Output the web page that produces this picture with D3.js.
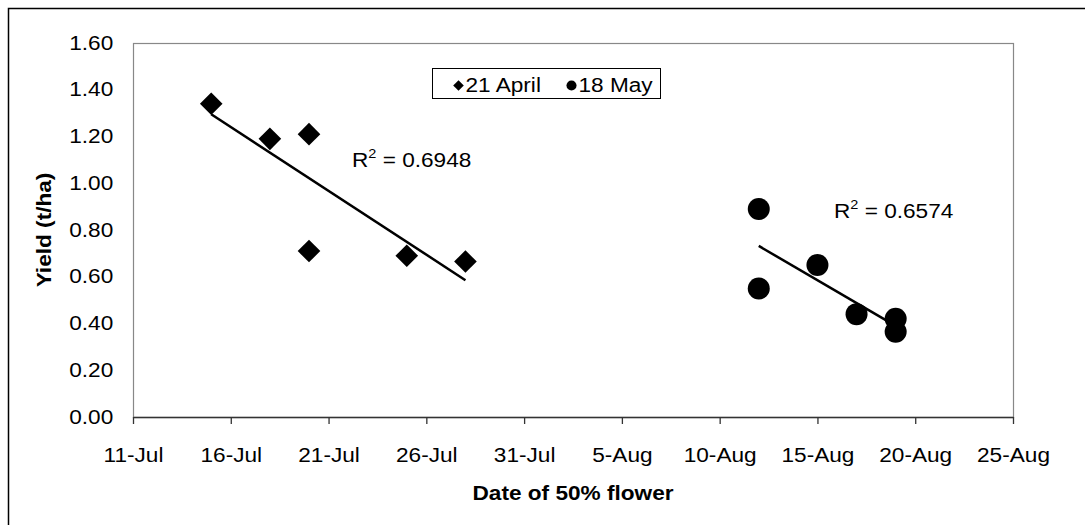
<!DOCTYPE html>
<html>
<head>
<meta charset="utf-8">
<title>Yield vs date of 50% flower</title>
<style>
    body { margin: 0; background: #fff; }
    text { font-family: "Liberation Sans", Arial, sans-serif; fill: #000; }
</style>
</head>
<body>
<svg id="chart"></svg>
<script src="https://d3js.org/d3.v7.min.js"></script>
<script>

    // data
    const apr21Dates = ["15-Jul", "18-Jul", "20-Jul", "20-Jul", "25-Jul", "28-Jul"];
    const apr21Yield = [1.34, 1.19, 1.21, 0.71, 0.69, 0.665];
    const may18Dates = ["12-Aug", "12-Aug", "15-Aug", "17-Aug", "19-Aug", "19-Aug"];
    const may18Yield = [0.89, 0.55, 0.65, 0.44, 0.42, 0.365];
    const seriesNames = ["21 April", "18 May"];
    const r2Labels = ["0.6948", "0.6574"];
    const xTickLabels = ["11-Jul", "16-Jul", "21-Jul", "26-Jul", "31-Jul", "5-Aug", "10-Aug", "15-Aug", "20-Aug", "25-Aug"];
    const yTicks = [0, 0.2, 0.4, 0.6, 0.8, 1.0, 1.2, 1.4, 1.6];

    const parseDate = d3.utcParse("%d-%b-%Y");
    const toDate = function(s) { return parseDate(s + "-2000"); };

    const svgWidth = 1085, svgHeight = 525;
    const margin = {top: 43, right: 72, bottom: 108, left: 133};
    const width = svgWidth - margin.left - margin.right;
    const height = svgHeight - margin.top - margin.bottom;
    const stretch = "scale(1.16,1)";   // the original text is a bit wide
    const fontSize = "19.5px";

    const svg = d3.select("#chart")
        .attr("width", svgWidth)
        .attr("height", svgHeight);

    // outer chart border (only top and left are in the picture)
    svg.append("path")
        .attr("d", "M8.5," + svgHeight + "V8.5H" + svgWidth)
        .attr("fill", "none")
        .attr("stroke", "#000")
        .attr("stroke-width", 1.5);

    const g = svg.append("g")
        .attr("transform", "translate(" + margin.left + "," + margin.top + ")");

    const x = d3.scaleUtc()
        .domain([toDate(xTickLabels[0]), toDate(xTickLabels[xTickLabels.length - 1])])
        .range([0, width]);
    const y = d3.scaleLinear().domain([0, 1.6]).range([height, 0]);

    // plot area frame
    g.append("rect")
        .attr("x", 0.5).attr("y", 0.5)
        .attr("width", width).attr("height", height)
        .attr("fill", "none")
        .attr("stroke", "#888")
        .attr("stroke-width", 1.2);

    // x axis
    const xAxis = g.append("g")
        .attr("transform", "translate(0," + height + ")")
        .call(d3.axisBottom(x)
            .tickValues(xTickLabels.map(toDate))
            .tickFormat(d3.utcFormat("%-d-%b"))
            .tickSize(7)
            .tickPadding(23)
            .tickSizeOuter(0));
    xAxis.select(".domain").attr("stroke", "#333").attr("stroke-width", 1.5);
    xAxis.selectAll(".tick line").attr("stroke", "#333").attr("stroke-width", 1.3);
    xAxis.selectAll("text")
        .attr("font-size", fontSize)
        .attr("font-family", "Liberation Sans, Arial, sans-serif")
        .attr("dy", "0.75em")
        .attr("transform", stretch);

    // y axis, labels only
    const yAxis = g.append("g")
        .call(d3.axisLeft(y)
            .tickValues(yTicks)
            .tickFormat(d3.format(".2f"))
            .tickSize(0)
            .tickPadding(17));
    yAxis.select(".domain").remove();
    yAxis.selectAll("text")
        .attr("font-size", fontSize)
        .attr("font-family", "Liberation Sans, Arial, sans-serif")
        .attr("transform", stretch);

    // axis titles
    svg.append("text")
        .attr("transform", "translate(" + (margin.left + width / 2) + ",500) " + stretch)
        .attr("text-anchor", "middle")
        .attr("font-size", fontSize)
        .attr("font-weight", "bold")
        .text("Date of 50% flower");

    svg.append("text")
        .attr("transform", "translate(51," + (margin.top + height / 2) + ") rotate(-90) scale(1.16,1)")
        .attr("text-anchor", "middle")
        .attr("font-size", fontSize)
        .attr("font-weight", "bold")
        .text("Yield (t/ha)");

    // build the two series
    const series = [
        {name: seriesNames[0], r2: r2Labels[0], shape: "diamond",
         points: apr21Dates.map(function(d, i) { return {date: toDate(d), value: apr21Yield[i]}; })},
        {name: seriesNames[1], r2: r2Labels[1], shape: "circle",
         points: may18Dates.map(function(d, i) { return {date: toDate(d), value: may18Yield[i]}; })}
    ];

    const diamond = d3.symbol().type(d3.symbolSquare).size(256);
    const circle = d3.symbol().type(d3.symbolCircle).size(380);

    // least squares trend line for each series
    function trend(points) {
        const xs = points.map(function(p) { return +p.date; });
        const ys = points.map(function(p) { return p.value; });
        const mx = d3.mean(xs), my = d3.mean(ys);
        let sxy = 0, sxx = 0;
        for (let i = 0; i < xs.length; i++) {
            sxy += (xs[i] - mx) * (ys[i] - my);
            sxx += (xs[i] - mx) * (xs[i] - mx);
        }
        const slope = sxy / sxx;
        const x0 = d3.min(xs), x1 = d3.max(xs);
        return [
            {date: new Date(x0), value: my + slope * (x0 - mx)},
            {date: new Date(x1), value: my + slope * (x1 - mx)}
        ];
    }

    const line = d3.line()
        .x(function(d) { return x(d.date); })
        .y(function(d) { return y(d.value); });

    series.forEach(function(s) {
        g.append("path")
            .datum(trend(s.points))
            .attr("fill", "none")
            .attr("stroke", "#000")
            .attr("stroke-width", 2.5)
            .attr("d", line);

        g.selectAll(null)
            .data(s.points)
            .enter()
            .append("path")
            .attr("transform", function(d) {
                return "translate(" + x(d.date) + "," + y(d.value) + ")" + (s.shape === "diamond" ? " rotate(45)" : "");
            })
            .attr("d", s.shape === "diamond" ? diamond : circle)
            .attr("fill", "#000");
    });

    // R squared labels
    const r2Pos = [[219, 124], [701, 175]];
    series.forEach(function(s, i) {
        const t = g.append("text")
            .attr("transform", "translate(" + r2Pos[i][0] + "," + r2Pos[i][1] + ") " + stretch)
            .attr("font-size", fontSize);
        t.append("tspan").text("R");
        t.append("tspan").attr("font-size", "12.5px").attr("dy", "-0.75em").text("2");
        t.append("tspan").attr("dy", "0.48em").text(" = " + s.r2);
    });

    // legend
    const legend = svg.append("g").attr("transform", "translate(432.5,68.5)");
    legend.append("rect")
        .attr("width", 228).attr("height", 30)
        .attr("fill", "#fff")
        .attr("stroke", "#000")
        .attr("stroke-width", 1);
    const legendItems = [{x: 26, label: seriesNames[0], shape: "diamond"}, {x: 139, label: seriesNames[1], shape: "circle"}];
    legendItems.forEach(function(item) {
        legend.append("path")
            .attr("transform", "translate(" + item.x + ",17)" + (item.shape === "diamond" ? " rotate(45)" : ""))
            .attr("d", d3.symbol().type(item.shape === "diamond" ? d3.symbolSquare : d3.symbolCircle)
                .size(item.shape === "diamond" ? 56 : 80)())
            .attr("fill", "#000");
        legend.append("text")
            .attr("transform", "translate(" + (item.x + 7) + ",23) " + stretch)
            .attr("font-size", fontSize)
            .text(item.label);
    });

</script>
</body>
</html>
